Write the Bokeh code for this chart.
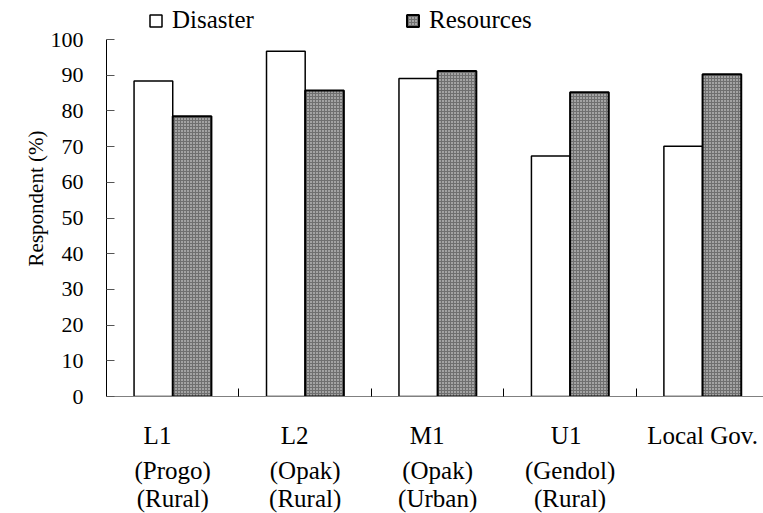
from bokeh.plotting import figure
from bokeh.models import (ColumnDataSource, Range1d, FixedTicker, Legend, LegendItem,
                          LinearAxis, CustomJSTickFormatter)
from bokeh.core.properties import value
from bokeh.embed import file_html
from bokeh.resources import INLINE

# ---- data ----
categories = ["L1", "L2", "M1", "U1", "Local Gov."]
label_line1 = ["L1", "L2", "M1", "U1", "Local Gov."]
label_line2 = ["(Progo)", "(Opak)", "(Opak)", "(Gendol)"]
label_line3 = ["(Rural)", "(Rural)", "(Urban)", "(Rural)"]
disaster = [88.4, 96.7, 89.1, 67.4, 70.1]
resources = [78.5, 85.7, 91.2, 85.2, 90.3]
y_ticks = [0, 10, 20, 30, 40, 50, 60, 70, 80, 90, 100]

FONT = "Liberation Serif"
n = len(categories)
idx = list(range(n))
bar_w = 0.292

src = ColumnDataSource(dict(
    xd=[i + 0.5 - bar_w / 2 for i in idx],
    xr=[i + 0.5 + bar_w / 2 for i in idx],
    disaster=disaster,
    resources=resources,
))

# frame spans from the very top so the legend (drawn inside the frame) is not clipped;
# value 100 sits 39 px below the top edge
p = figure(frame_width=657, frame_height=396, output_backend="svg", toolbar_location=None,
           x_range=Range1d(0, 4.96), y_range=Range1d(0, 100 * 396 / 357),
           min_border_left=106, min_border_right=0, min_border_top=0, min_border_bottom=0)
p.outline_line_color = None
p.xgrid.visible = False
p.ygrid.visible = False
p.background_fill_color = "white"

r1 = p.vbar(x="xd", top="disaster", width=bar_w, source=src,
            fill_color="white", line_color="black", line_width=1.5)
r2 = p.vbar(x="xr", top="resources", width=bar_w, source=src,
            fill_color="#6f6f6f", line_color="black", line_width=2,
            hatch_pattern="dot", hatch_color="white", hatch_scale=3, hatch_weight=1,
            hatch_alpha=0.9)

# main axes
xa = p.xaxis[0]
xa.ticker = FixedTicker(ticks=[1, 2, 3, 4])
xa.major_label_text_color = None
xa.major_label_text_font_size = "1px"
xa.major_label_standoff = 0
xa.major_tick_in = 8
xa.major_tick_out = 0
xa.minor_tick_in = 0
xa.minor_tick_out = 0
xa.axis_line_color = "#808080"
xa.major_tick_line_color = "black"

ya = p.yaxis[0]
ya.ticker = FixedTicker(ticks=y_ticks)
ya.bounds = (0, 100)
ya.major_tick_in = 8
ya.major_tick_out = 0
ya.minor_tick_in = 0
ya.minor_tick_out = 0
ya.axis_line_color = "black"
ya.major_tick_line_color = "#555555"
ya.major_label_text_font = FONT
ya.major_label_text_font_size = "22px"
ya.major_label_text_color = "black"
ya.major_label_standoff = 23
ya.axis_label = "Respondent (%)"
ya.axis_label_text_font = FONT
ya.axis_label_text_font_size = "21px"
ya.axis_label_text_font_style = "normal"
ya.axis_label_text_color = "black"
ya.axis_label_standoff = 0

# category labels: one label axis per text line
line1_off = [-0.115, -0.08, -0.08, -0.03, 0.0]
lines = [
    (label_line1, [i + 0.5 + o for i, o in zip(idx, line1_off)], 25),
    (label_line2, [i + 0.5 for i in idx[:len(label_line2)]], 5),
    (label_line3, [i + 0.5 for i in idx[:len(label_line3)]], -2),
]
for labels, pos, standoff in lines:
    ax = LinearAxis(ticker=FixedTicker(ticks=pos),
                    formatter=CustomJSTickFormatter(args=dict(labels=labels),
                                                    code="return labels[index];"))
    ax.axis_line_color = None
    ax.major_tick_line_color = None
    ax.minor_tick_line_color = None
    ax.major_tick_in = 0
    ax.major_tick_out = 0
    ax.major_label_standoff = standoff
    ax.major_label_text_font = FONT
    ax.major_label_text_font_size = "25px"
    ax.major_label_text_color = "black"
    p.add_layout(ax, "below")

# legends (inside the frame's top strip)
common = dict(orientation="horizontal", glyph_width=15, glyph_height=15,
              label_standoff=9, spacing=0, padding=0, margin=0,
              border_line_color=None, background_fill_alpha=0, label_text_font=FONT,
              label_text_font_size="25px", label_text_color="black", label_height=15)
leg1 = Legend(items=[LegendItem(label=value("Disaster"), renderers=[r1])],
              location=(42, 362), **common)
leg2 = Legend(items=[LegendItem(label=value("Resources"), renderers=[r2])],
              location=(299, 362), **common)
p.add_layout(leg1, "center")
p.add_layout(leg2, "center")

open("out.html", "w").write(file_html(p, INLINE))
